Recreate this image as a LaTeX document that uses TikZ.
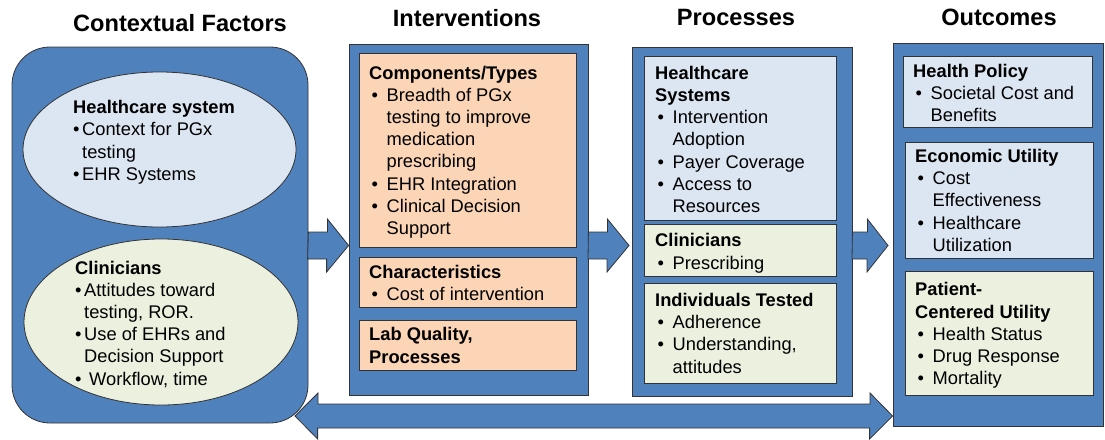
\documentclass[tikz,border=0pt]{standalone}
\usepackage{fontspec}
\setmainfont{Liberation Sans}
\usepackage{tikz}
\usetikzlibrary{shapes.geometric}

\definecolor{panelblue}{HTML}{4F81BD}
\definecolor{paleblue}{HTML}{DCE6F2}
\definecolor{palegreen}{HTML}{EBF1DE}
\definecolor{paleorange}{HTML}{FBD5B5}

\newcommand{\bl}{\makebox[17.5pt][l]{\hspace{2.5pt}\textbullet}}
\newcommand{\ind}{\hspace*{17.5pt}}
\newcommand{\sbl}{\makebox[9pt][l]{\textbullet}}
\newcommand{\sind}{\hspace*{9pt}}

\begin{document}
\begin{tikzpicture}[x=1pt,y=-1pt]
		\tikzstyle{panel} = [rectangle,draw=black!80,fill=panelblue,line width=0.8pt,inner sep=0pt]
		\tikzstyle{oval}  = [ellipse,draw=black!80,line width=0.8pt,inner sep=0pt]
		\tikzstyle{item}  = [rectangle,draw=black!80,line width=0.8pt,inner sep=0pt]
		\tikzstyle{txt}   = [anchor=north west,inner sep=0pt,align=left,font=\fontsize{18.3}{22.2}\selectfont]
		\tikzstyle{title} = [anchor=north,inner sep=0pt,font=\fontsize{23.6}{28}\selectfont\bfseries]
		\tikzstyle{blockarrow} = [draw=black!80,fill=panelblue,line width=0.8pt,line join=miter]
		
		\useasboundingbox (0,0) rectangle (1105,439);
		
		\node[title] (ctxH) at (180,14) {Contextual Factors};
		\node[title] (intvH) at (467,9) {Interventions};
		\node[title] (procH) at (736,9) {Processes};
		\node[title] (outcH) at (999,9) {Outcomes};
		
		% contextual factors
		\node[panel,rounded corners=38,minimum width=296,minimum height=376] (ctx) at (160,235) {};
		\node[oval,fill=paleblue,minimum width=273,minimum height=155] (hs) at (159.5,149.5) {};
		\node[oval,fill=palegreen,minimum width=274,minimum height=166] (cl) at (161,322) {};
		\node[txt] (hsT) at (73,100.2) {\textbf{Healthcare system}\\ \sbl Context for PGx\\ \sind testing\\ \sbl EHR Systems};
		\node[txt] (clT) at (75,260.7) {\textbf{Clinicians}\\ \sbl Attitudes toward\\ \sind testing, ROR.\\ \sbl Use of EHRs and\\ \sind Decision Support\\ \makebox[14pt][l]{\textbullet}Workflow, time};
		
		% interventions
		\node[panel,minimum width=239,minimum height=351] (intv) at (468.5,219.5) {};
		\node[item,fill=paleorange,minimum width=217,minimum height=194] (comp) at (467.5,150) {};
		\node[item,fill=paleorange,minimum width=217,minimum height=50] (char) at (467.5,282) {};
		\node[item,fill=paleorange,minimum width=217,minimum height=50] (lab) at (467.5,345) {};
		\node[txt] (compT) at (369,65.7) {\textbf{Components/Types}\\ \bl Breadth of PGx\\ \ind testing to improve\\ \ind medication\\ \ind prescribing\\ \bl EHR Integration\\ \bl Clinical Decision\\ \ind Support};
		\node[txt] (charT) at (369,264.7) {\textbf{Characteristics}\\ \bl Cost of intervention};
		\node[txt] (labT) at (369,327.5) {\textbf{Lab Quality,}\\ \textbf{Processes}};
		
		% processes
		\node[panel,minimum width=220,minimum height=349] (proc) at (742,221.5) {};
		\node[item,fill=paleblue,minimum width=192,minimum height=164] (hsys) at (740,138) {};
		\node[item,fill=palegreen,minimum width=192,minimum height=52] (clin) at (740,250) {};
		\node[item,fill=palegreen,minimum width=192,minimum height=100] (indv) at (740,333) {};
		\node[txt] (hsysT) at (655,65.8) {\textbf{Healthcare}\\ \textbf{Systems}\\ \bl Intervention\\ \ind Adoption\\ \bl Payer Coverage\\ \bl Access to\\ \ind Resources};
		\node[txt] (clinT) at (655,233.5) {\textbf{Clinicians}\\ \bl Prescribing};
		\node[txt] (indvT) at (655,293) {\textbf{Individuals Tested}\\ \bl Adherence\\ \bl Understanding,\\ \ind attitudes};
		
		% outcomes
		\node[panel,minimum width=210,minimum height=383] (outc) at (998,234.5) {};
		\node[item,fill=paleblue,minimum width=189,minimum height=71] (hpol) at (997.5,91.5) {};
		\node[item,fill=paleblue,minimum width=188,minimum height=116] (econ) at (999,200) {};
		\node[item,fill=palegreen,minimum width=188,minimum height=124] (pcu) at (999,333) {};
		\node[txt] (hpolT) at (913,64) {\textbf{Health Policy}\\ \bl Societal Cost and\\ \ind Benefits};
		\node[txt] (econT) at (915,149) {\textbf{Economic Utility}\\ \bl Cost\\ \ind Effectiveness\\ \bl Healthcare\\ \ind Utilization};
		\node[txt] (pcuT) at (915,282.5) {\textbf{Patient-}\\ \textbf{Centered Utility}\\ \bl Health Status\\ \bl Drug Response\\ \bl Mortality};
		
		% block arrows between the panels
		\coordinate (a1) at (ctx.east |- 0,245.5);
		\coordinate (a2) at (intv.east |- 0,245.5);
		\coordinate (a3) at (proc.east |- 0,245.5);
		\coordinate (t2) at (629,245.5);
		\coordinate (t3) at (888,245.5);
		\draw[blockarrow] (a1) ++(0,-13.5) -- ++(19,0) -- ++(0,-13) -- (intv.west |- a1) -- ++(-22,26.5) -- ++(0,-13) -- ++(-19,0) -- cycle;
		\draw[blockarrow] (a2) ++(0,-13.5) -- ++(19,0) -- ++(0,-13) -- (t2) -- ++(-22,26.5) -- ++(0,-13) -- ++(-19,0) -- cycle;
		\draw[blockarrow] (a3) ++(0,-13.5) -- ++(15,0) -- ++(0,-13) -- (t3) -- ++(-21,26.5) -- ++(0,-13) -- ++(-15,0) -- cycle;
		
		% feedback arrow
		\coordinate (d1) at (295,416);
		\coordinate (d2) at (outc.west |- d1);
		\draw[blockarrow] (d1) -- ++(23,-23) -- ++(0,11) -- ++(552,0) -- ++(0,-11) -- (d2) -- ++(-23,23) -- ++(0,-11) -- ++(-552,0) -- ++(0,11) -- cycle;
	\end{tikzpicture}
\end{document}
